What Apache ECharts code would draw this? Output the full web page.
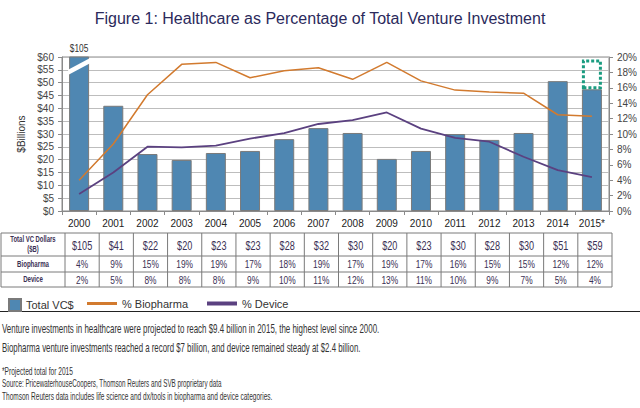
<!DOCTYPE html>
<html><head><meta charset="utf-8">
<script src="https://cdn.jsdelivr.net/npm/echarts@6/dist/echarts.min.js"></script>
<style>html,body{margin:0;padding:0;background:#fff}#c{width:640px;height:408px}</style>
</head><body><div id="c"></div>
<script>
const years = ['2000','2001','2002','2003','2004','2005','2006','2007','2008','2009','2010','2011','2012','2013','2014','2015*'];
const totalVC = [105, 41, 22.2, 19.9, 22.6, 23.4, 28, 32.3, 30.4, 20.3, 23.4, 30, 27.7, 30.4, 50.6, 47.4];
const projected = [null, null, null, null, null, null, null, null, null, null, null, null, null, null, null, 11.6];
const biopharmaPct = [4.0, 8.7, 15.1, 19.05, 19.3, 17.3, 18.2, 18.6, 17.1, 19.3, 16.9, 15.7, 15.45, 15.3, 12.5, 12.3];
const devicePct = [2.2, 5.0, 8.35, 8.27, 8.5, 9.4, 10.1, 11.3, 11.8, 12.8, 10.7, 9.5, 9.0, 7.05, 5.3, 4.4];
const tableVC = ['$105','$41','$22','$20','$23','$23','$28','$32','$30','$20','$23','$30','$28','$30','$51','$59'];
const tableBio = ['4%','9%','15%','19%','19%','17%','18%','19%','17%','19%','17%','16%','15%','15%','12%','12%'];
const tableDev = ['2%','5%','8%','8%','8%','9%','10%','11%','12%','13%','11%','10%','9%','7%','5%','4%'];
const rowLabels = ['Biopharma', 'Device'];
const titleText = 'Figure 1: Healthcare as Percentage of Total Venture Investment';
const notes = [
  'Venture investments in healthcare were projected to reach $9.4 billion in 2015, the highest level since 2000.',
  'Biopharma venture investments reached a record $7 billion, and device remained steady at $2.4 billion.'
];
const footnotes = [
  '*Projected total for 2015',
  'Source: PricewaterhouseCoopers, Thomson Reuters and SVB proprietary data',
  'Thomson Reuters data includes life science and dx/tools in biopharma and device categories.'
];

const FN = '"Liberation Sans",Arial,sans-serif';
const BAR = '#4f87b2', ORANGE = '#d27a2e', PURPLE = '#5b4180', GREEN = '#1a9c80';
const NARROW = 0.76;

const chart = echarts.init(document.getElementById('c'), null, {renderer: 'svg'});
const option = {
  animation: false,
  title: {text: titleText, left: 'center', top: 5,
    textStyle: {fontFamily: FN, fontSize: 16, fontWeight: 'normal', color: '#2b2a5c'}},
  grid: {left: 62, right: 31, top: 57, bottom: 197, show: true, borderColor: '#8a8a8a', borderWidth: 1, outerBoundsMode: 'none'},
  legend: [
    {data: [{name: 'Total VC$', icon: 'rect'}], left: 3, top: 293, itemWidth: 12, itemHeight: 12,
      textStyle: {fontFamily: FN, fontSize: 11, color: '#333'}},
    {data: [{name: '% Biopharma', icon: 'rect'}], left: 82, top: 293, itemWidth: 30, itemHeight: 3,
      textStyle: {fontFamily: FN, fontSize: 11, color: '#333'}},
    {data: [{name: '% Device', icon: 'rect'}], left: 202, top: 293, itemWidth: 30, itemHeight: 4,
      textStyle: {fontFamily: FN, fontSize: 11, color: '#333'}}
  ],
  xAxis: {type: 'category', data: years,
    axisLine: {lineStyle: {color: '#8a8a8a'}},
    axisTick: {show: true, length: 4, lineStyle: {color: '#8a8a8a'}},
    axisLabel: {interval: 0, fontFamily: FN, fontSize: 10, color: '#222', margin: 7}},
  yAxis: [
    {type: 'value', min: 0, max: 60, interval: 5, name: '$Billions', nameLocation: 'middle', nameGap: 30, nameRotate: 90,
      nameTextStyle: {fontFamily: FN, fontSize: 10, color: '#333'},
      axisLine: {show: true, lineStyle: {color: '#8a8a8a'}},
      axisTick: {show: true, length: 4, lineStyle: {color: '#8a8a8a'}},
      splitLine: {lineStyle: {color: '#bdbdbd'}},
      axisLabel: {formatter: '${value}', fontFamily: FN, fontSize: 10, color: '#444', margin: 8}},
    {type: 'value', min: 0, max: 20, interval: 2, position: 'right',
      axisLine: {show: true, lineStyle: {color: '#8a8a8a'}},
      axisTick: {show: true, length: 4, lineStyle: {color: '#8a8a8a'}},
      splitLine: {show: false},
      axisLabel: {formatter: '{value}%', fontFamily: FN, fontSize: 10, color: '#444', margin: 8}}
  ],
  series: [
    {name: 'Total VC$', type: 'bar', stack: 'vc', data: totalVC, barWidth: 20, clip: true,
      itemStyle: {color: BAR, borderColor: '#7a7a7a', borderWidth: 1}},
    {name: 'Projected', type: 'bar', stack: 'vc', data: projected, barWidth: 21,
      itemStyle: {color: 'rgba(0,0,0,0)', borderColor: GREEN, borderWidth: 3, borderType: [3, 2]}},
    {name: '% Biopharma', type: 'line', yAxisIndex: 1, data: biopharmaPct, symbol: 'none',
      itemStyle: {color: ORANGE}, lineStyle: {color: ORANGE, width: 1.5}},
    {name: '% Device', type: 'line', yAxisIndex: 1, data: devicePct, symbol: 'none',
      itemStyle: {color: PURPLE}, lineStyle: {color: PURPLE, width: 1.8}}
  ]
};
chart.setOption(option);

const mctx = document.createElement('canvas').getContext('2d');
const fitScale = (text, font, target) => { mctx.font = font; return target / mctx.measureText(text).width; };
const txt = (text, x, y, font, opts) => {
  opts = opts || {};
  return {type: 'text', x: x, y: y, z: 100, scaleX: opts.scaleX || NARROW,
    style: {text: text, x: 0, y: 0, align: opts.align || 'left', verticalAlign: 'middle', font: font,
      fill: opts.fill || '#333', lineHeight: opts.lineHeight}};
};

const px = (i, v) => chart.convertToPixel({xAxisIndex: 0, yAxisIndex: 0}, [i, v]);
const halfBar = 10;
const g = [];
const c0 = px(0, 0)[0];
g.push({type: 'polygon', z: 100, shape: {points: [
  [c0 - halfBar - 1, px(0, 53)[1]], [c0 + halfBar + 1, px(0, 57.6)[1]],
  [c0 + halfBar + 1, px(0, 59.6)[1]], [c0 - halfBar - 1, px(0, 55)[1]]]},
  style: {fill: '#fff'}});
g.push(txt(tableVC[0], c0, px(0, 60)[1] - 9, '11px ' + FN, {align: 'center'}));

// table
const band = px(1, 0)[0] - px(0, 0)[0];
const off = 3;
const rowY = [233, 256, 272, 287];
const tableLeft = 1;
const colEdges = [];
for (let i = 0; i <= years.length; i++) colEdges.push(px(0, 0)[0] - band / 2 + off + i * band);
const tableRight = colEdges[colEdges.length - 1];
const LC = '#7a7a7a';
rowY.forEach(y => g.push({type: 'line', shape: {x1: tableLeft, y1: y, x2: tableRight, y2: y}, style: {stroke: LC, lineWidth: 1}}));
[tableLeft].concat(colEdges).forEach(x => g.push({type: 'line', shape: {x1: x, y1: rowY[0], x2: x, y2: rowY[3]}, style: {stroke: LC, lineWidth: 1}}));
const labCx = (tableLeft + colEdges[0]) / 2;
const LF = 'bold 9px ' + FN;
g.push(txt('Total VC Dollars\n($B)', labCx, (rowY[0] + rowY[1]) / 2, LF, {align: 'center', fill: '#3b3054', lineHeight: 10, scaleX: 0.66}));
g.push(txt(rowLabels[0], labCx, (rowY[1] + rowY[2]) / 2, LF, {align: 'center', fill: '#3b3054', scaleX: 0.68}));
g.push(txt(rowLabels[1], labCx, (rowY[2] + rowY[3]) / 2, LF, {align: 'center', fill: '#3b3054', scaleX: 0.68}));
[tableVC, tableBio, tableDev].forEach((arr, r) => {
  arr.forEach((t, i) => {
    g.push(txt(t, (colEdges[i] + colEdges[i + 1]) / 2, (rowY[r] + rowY[r + 1]) / 2 + 0.5,
      (r === 0 ? '12px ' : '11px ') + FN, {align: 'center', fill: '#3b3054'}));
  });
});

// separator and notes
g.push({type: 'line', shape: {x1: 0, y1: 311.5, x2: 640, y2: 311.5}, style: {stroke: '#222', lineWidth: 1}});
const NF = '12px ' + FN, SF = '10px ' + FN;
g.push(txt(notes[0], 2, 329, NF, {scaleX: fitScale(notes[0], NF, 378)}));
g.push(txt(notes[1], 2, 348, NF, {scaleX: fitScale(notes[1], NF, 359)}));
const fw = [71, 220, 271];
footnotes.forEach((t, i) => g.push(txt(t, 2, [371, 383.5, 396][i], SF, {scaleX: fitScale(t, SF, fw[i])})));

chart.setOption({graphic: {elements: g}});
</script></body></html>
